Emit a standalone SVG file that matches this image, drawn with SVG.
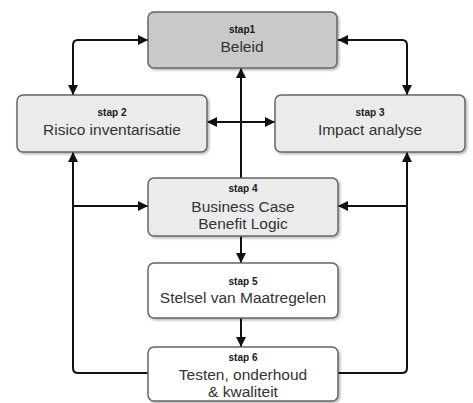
<svg xmlns="http://www.w3.org/2000/svg" width="473" height="403" viewBox="0 0 473 403">
<defs>
<marker id="ah" viewBox="0 0 10 10" refX="10" refY="5" markerWidth="10" markerHeight="10" markerUnits="userSpaceOnUse" orient="auto-start-reverse">
<path d="M0,0 L10,5 L0,10 Z" fill="#111"/>
</marker>
<filter id="sh" x="-5%" y="-10%" width="115%" height="130%">
<feDropShadow dx="1.5" dy="1.5" stdDeviation="1.2" flood-color="#000" flood-opacity="0.3"/>
</filter>
</defs>
<style>
.box{stroke:#666;stroke-width:1.5;filter:url(#sh)}
.dark{fill:#c9c9c9}
.light{fill:#ebebeb}
.white{fill:#fff}
.st{font-family:"Liberation Sans",Arial,sans-serif;font-weight:bold;font-size:10px;fill:#1a1a1a;text-anchor:middle}
.tx{font-family:"Liberation Sans",Arial,sans-serif;font-size:15.5px;fill:#333;text-anchor:middle}
.c{fill:none;stroke:#111;stroke-width:2}
</style>
<rect width="473" height="403" fill="#fff"/>
<g id="connectors">
<path class="c" d="M148,40 H78 Q73,40 73,45 V95" marker-start="url(#ah)" marker-end="url(#ah)"/>
<path class="c" d="M338,40 H402 Q407,40 407,45 V95" marker-start="url(#ah)" marker-end="url(#ah)"/>
<path class="c" d="M207,122 H275" marker-start="url(#ah)" marker-end="url(#ah)"/>
<path class="c" d="M241,178 V68" marker-end="url(#ah)"/>
<path class="c" d="M148,373 H78 Q73,373 73,368 V152" marker-end="url(#ah)"/>
<path class="c" d="M73,206 H148" marker-end="url(#ah)"/>
<path class="c" d="M338,373 H402 Q407,373 407,368 V152" marker-end="url(#ah)"/>
<path class="c" d="M407,206 H338" marker-end="url(#ah)"/>
<path class="c" d="M241,236 V263" marker-end="url(#ah)"/>
<path class="c" d="M241,318 V347" marker-end="url(#ah)"/>
</g>
<g id="stap1">
<rect class="box dark" x="148" y="12" width="189" height="56" rx="6"/>
<text class="st" x="242" y="33">stap1</text>
<text class="tx" x="242" y="52">Beleid</text>
</g>
<g id="stap2">
<rect class="box light" x="17" y="95" width="190" height="57" rx="6"/>
<text class="st" x="112" y="116">stap 2</text>
<text class="tx" x="112" y="135">Risico inventarisatie</text>
</g>
<g id="stap3">
<rect class="box light" x="275" y="95" width="190" height="57" rx="6"/>
<text class="st" x="370" y="116">stap 3</text>
<text class="tx" x="370" y="135">Impact analyse</text>
</g>
<g id="stap4">
<rect class="box light" x="148" y="178" width="190" height="58" rx="6"/>
<text class="st" x="243" y="192">stap 4</text>
<text class="tx" x="243" y="212">Business Case</text>
<text class="tx" x="243" y="229">Benefit Logic</text>
</g>
<g id="stap5">
<rect class="box white" x="148" y="263" width="190" height="55" rx="6"/>
<text class="st" x="243" y="285">stap 5</text>
<text class="tx" x="243" y="303">Stelsel van Maatregelen</text>
</g>
<g id="stap6">
<rect class="box white" x="148" y="347" width="190" height="54" rx="6"/>
<text class="st" x="243" y="361">stap 6</text>
<text class="tx" x="243" y="380">Testen, onderhoud</text>
<text class="tx" x="243" y="397">&amp; kwaliteit</text>
</g>
</svg>
